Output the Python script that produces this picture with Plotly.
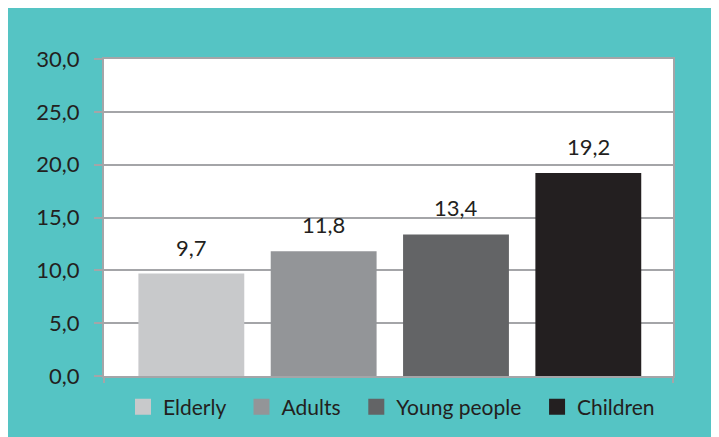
import plotly.graph_objects as go

categories = ["Elderly", "Adults", "Young people", "Children"]
values = [9.7, 11.8, 13.4, 19.2]
colors = ["#C8C9CB", "#939598", "#636466", "#231F20"]
y_ticks = [0, 5, 10, 15, 20, 25, 30]

# page offset of the figure inside the browser page (body margin)
OFF = 8
W, H = 719, 437
L, R, T, B = 104 - OFF, 673 - OFF, 59 - OFF, 376 - OFF
def px(x): return (x - OFF - L) / (R - L)
def py(y): return (B - (y - OFF)) / (B - T)

TEAL = "#55C4C4"
GRID = "#A4A5A8"
TXT = "#231F20"
FONT = "Lato"
NB = "\u00a0"

fig = go.Figure()
for c, v, col in zip(categories, values, colors):
    fig.add_trace(go.Bar(x=[c], y=[v], marker=dict(color=col, line=dict(width=0)),
                         showlegend=False, width=0.8))
for i, (c, col) in enumerate(zip(categories, colors)):
    label = c + (NB * 2 if i < len(categories) - 1 else "")
    fig.add_trace(go.Scatter(x=[None], y=[None], mode="markers", name=label,
                             marker=dict(symbol="square", size=16, color=col,
                                         line=dict(width=0))))

annotations = []
for c, v in zip(categories, values):
    annotations.append(dict(x=c, y=v, xref="x", yref="y", text=f"{v:.1f}".replace(".", ","),
                            showarrow=False, yanchor="bottom", yshift=11,
                            font=dict(family=FONT, size=22, color=TXT)))

shapes = [
    dict(type="line", xref="paper", yref="paper", x0=0, x1=0, y0=0, y1=py(383),
         line=dict(color=GRID, width=2)),
    dict(type="line", xref="paper", yref="paper", x0=1, x1=1, y0=0, y1=py(383),
         line=dict(color=GRID, width=2)),
]

fig.update_layout(
    width=W, height=H,
    margin=dict(l=L, r=W - R, t=T, b=H - B, pad=0),
    paper_bgcolor=TEAL, plot_bgcolor="white",
    separators=", ",
    font=dict(family=FONT, size=22, color=TXT),
    xaxis=dict(showticklabels=False, showline=True, mirror=True, linecolor=GRID, linewidth=2,
               ticks="", showgrid=False, fixedrange=True, range=[-0.66, 3.64]),
    yaxis=dict(range=[0, 30], tickvals=y_ticks, tickformat=".1f", showline=True, mirror=True,
               linecolor=GRID, linewidth=2, ticks="outside", ticklen=8, tickcolor=GRID,
               tickwidth=2, showgrid=True, gridcolor=GRID, gridwidth=1.5, zeroline=False,
               ticklabelstandoff=10, tickfont=dict(family=FONT, size=22, color=TXT)),
    legend=dict(orientation="h", x=px(123), xanchor="left", y=py(407), yanchor="middle",
                font=dict(family=FONT, size=21, color=TXT), bgcolor="rgba(0,0,0,0)",
                itemclick=False, tracegroupgap=0),
    annotations=annotations,
    shapes=shapes,
)

fig.write_html("out.html")
